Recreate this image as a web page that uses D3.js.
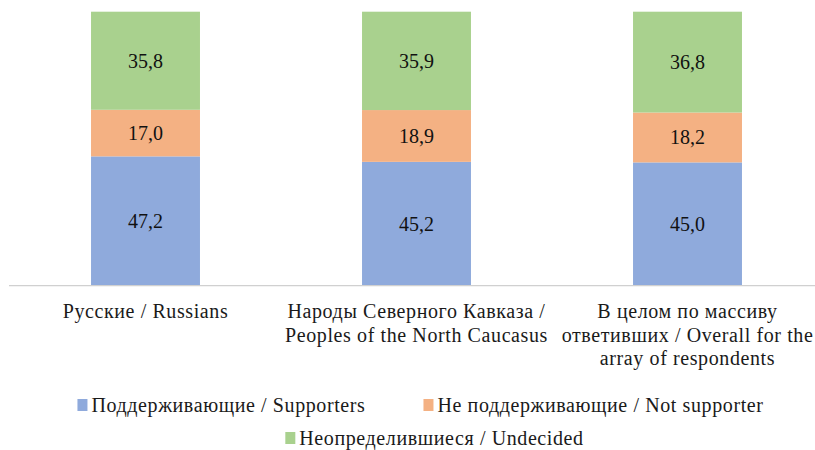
<!DOCTYPE html>
<html><head><meta charset="utf-8">
<script src="https://cdn.jsdelivr.net/npm/d3@7"></script>
<style>body{margin:0;background:#fff}svg{display:block}</style>
</head><body><svg id="c" width="815" height="450" font-family="'Liberation Serif', 'Times New Roman', Tinos, 'DejaVu Serif', serif"></svg>
<script>
const categories = ["Russians", "NorthCaucasus", "Overall"];
const categoryLabels = [
  ["Русские / Russians"],
  ["Народы Северного Кавказа /", "Peoples of the North Caucasus"],
  ["В целом по массиву", "ответивших / Overall for the", "array of respondents"]
];
const seriesNames = ["Поддерживающие / Supporters", "Не поддерживающие / Not supporter", "Неопределившиеся / Undecided"];
const supporters = [47.2, 45.2, 45.0];
const notSupporters = [17.0, 18.9, 18.2];
const undecided = [35.8, 35.9, 36.8];
const colors = ["#8FAADC", "#F4B183", "#A9D18E"];

const FONT = "'Liberation Serif', 'Times New Roman', Tinos, 'DejaVu Serif', serif";
const svg = d3.select("#c");
const x = d3.scaleBand().domain(categories).range([10, 823]).paddingInner(0.598).paddingOuter(0.299);
const y = d3.scaleLinear().domain([0, 100]).range([285.7, 11.7]);

const rows = categories.map((c, i) => ({cat: c, s0: supporters[i], s1: notSupporters[i], s2: undecided[i]}));
const stack = d3.stack().keys(["s0", "s1", "s2"])(rows);

const g = svg.append("g");
stack.forEach((layer, li) => {
  g.selectAll(null).data(layer).enter().append("rect")
    .attr("x", d => x(d.data.cat))
    .attr("width", x.bandwidth())
    .attr("y", d => y(d[1]))
    .attr("height", d => y(d[0]) - y(d[1]))
    .attr("fill", colors[li]);
  g.selectAll(null).data(layer).enter().append("text")
    .attr("x", d => x(d.data.cat) + x.bandwidth() / 2)
    .attr("y", d => (y(d[0]) + y(d[1])) / 2)
    .attr("dy", "0.35em")
    .attr("text-anchor", "middle")
    .attr("font-family", FONT)
    .attr("font-size", 20)
    .attr("fill", "#111")
    .text(d => (d[1] - d[0]).toFixed(1).replace(".", ","));
});

// axis
const axis = svg.append("g").attr("transform", `translate(0,${y(0)})`)
  .call(d3.axisBottom(x).tickSize(0).tickFormat(""));
axis.attr("font-family", FONT);
axis.select(".domain").attr("stroke", "#d0d0d0").attr("stroke-width", 1.3).attr("d", "M9,0H815");
axis.selectAll(".tick").each(function(d, i) {
  const t = d3.select(this).append("text")
    .attr("text-anchor", "middle").attr("font-size", 20).attr("fill", "#1a1a1a")
    .attr("font-family", FONT).attr("letter-spacing", 0.6);
  categoryLabels[i].forEach((line, k) => {
    t.append("tspan").attr("x", 0).attr("y", 32.5 + k * 23.5).text(line);
  });
});

// legend
function legendRow(items, cy, cx) {
  const lg = svg.append("g");
  let off = 0;
  items.forEach((it, k) => {
    const gi = lg.append("g").attr("transform", `translate(${off},0)`);
    gi.append("rect").attr("x", 0).attr("y", -6).attr("width", 10).attr("height", 12).attr("fill", colors[it]);
    const tx = gi.append("text").attr("x", 14).attr("y", 0).attr("dy", "0.35em")
      .attr("font-family", FONT).attr("letter-spacing", 0.6)
      .attr("font-size", 20).attr("fill", "#1a1a1a").text(seriesNames[it]);
    off += 14 + tx.node().getComputedTextLength() + 58;
  });
  const total = off - 58;
  lg.attr("transform", `translate(${cx - total / 2},${cy})`);
}
legendRow([0, 1], 405, 420.5);
legendRow([2], 438, 434.5);
</script></body></html>
